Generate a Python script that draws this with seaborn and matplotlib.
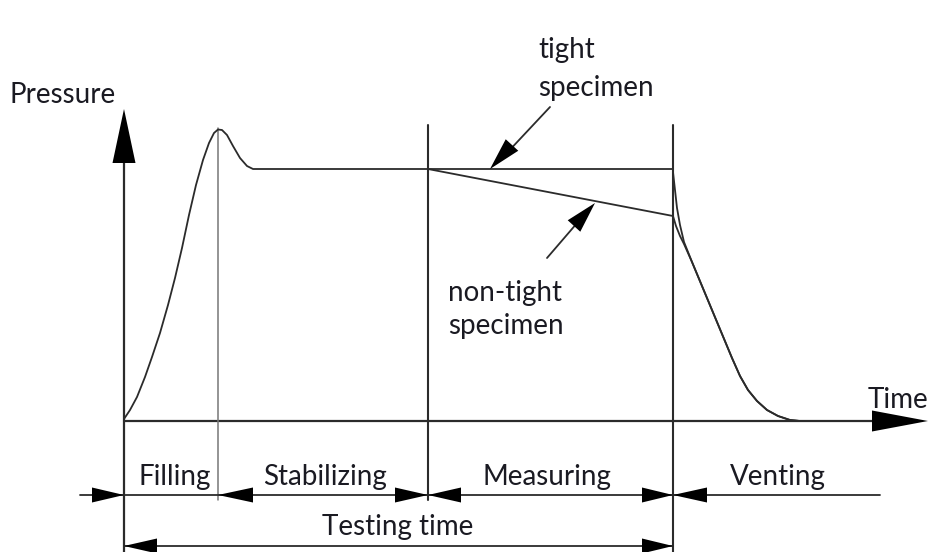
import numpy as np
import matplotlib.pyplot as plt
import seaborn as sns

sns.set_style("white")
plt.rcParams["font.family"] = ["Lato", "DejaVu Sans"]

# diagram units: x = time (px), y = pressure (px, measured downward)
phase_x = [124, 218, 428, 673]
phase_names = ["Filling", "Stabilizing", "Measuring", "Venting"]
phase_label_x = [175, 325, 547, 778]
zero_p = 421
plateau_p = 169

fill_t = [124, 130, 137, 145, 152, 160, 168, 175, 182, 189, 196, 203, 209,
          214, 218, 222, 227, 233, 240, 247, 253, 260, 673]
fill_p = [419, 410, 397, 377, 357, 333, 305, 278, 248, 215, 185, 160, 143,
          133, 129.5, 130, 135, 146, 158, 166, 169, 169, 169]

leak_t = [428, 673]
leak_p = [169, 216]

vent_tight_t = [673, 675, 677, 680, 684, 692, 702, 712, 722, 732, 740, 748,
                757, 767, 778, 790, 800]
vent_tight_p = [172, 190, 208, 225, 242, 262, 286, 310, 334, 358, 376, 390,
                401, 410, 416, 420, 421]
vent_leak_t = [673, 676, 680, 684, 692, 702, 712, 722, 732, 740, 748, 757,
               767, 778, 790, 800]
vent_leak_p = [216, 226, 236, 244, 262, 286, 310, 334, 358, 376, 390, 401,
               410, 416, 420, 421]

ink = "#2b2b2b"
txt = "#1a1a22"


def head(ax, tip, base, width):
    # filled triangle arrow head from base centre to tip
    tip = np.array(tip, float)
    base = np.array(base, float)
    d = tip - base
    n = np.array([-d[1], d[0]]) / np.hypot(*d) * width / 2
    pts = np.array([tip, base + n, base - n])
    ax.fill(pts[:, 0], pts[:, 1], color="black", lw=0, zorder=5)


fig = plt.figure(figsize=(9.36, 5.52), dpi=100)
ax = fig.add_axes([0, 0, 1, 1])
ax.set_xlim(0, 936)
ax.set_ylim(552, 0)
ax.axis("off")

# axes
ax.plot([124, 124], [552, 160], color=ink, lw=1.6)
head(ax, (124, 109), (124, 163), 23)
ax.plot([124, 875], [zero_p, zero_p], color=ink, lw=1.6)
head(ax, (928, zero_p), (872, zero_p), 21)

# phase boundaries
ax.plot([phase_x[1]] * 2, [128, 500], color="#777777", lw=1.1)
ax.plot([phase_x[2]] * 2, [125, 500], color=ink, lw=1.5)
ax.plot([phase_x[3]] * 2, [125, 552], color=ink, lw=1.5)

# pressure curves
kw = dict(ax=ax, color=ink, lw=1.3, sort=False, estimator=None, legend=False)
sns.lineplot(x=fill_t, y=fill_p, **kw)
sns.lineplot(x=leak_t, y=leak_p, **kw)
sns.lineplot(x=vent_tight_t, y=vent_tight_p, **kw)
sns.lineplot(x=vent_leak_t, y=vent_leak_p, **kw)

# callouts
ax.plot([550, 505], [107, 155], color=ink, lw=1.3)
head(ax, (490, 169), (512, 145), 17)
ax.plot([547, 584], [258, 215], color=ink, lw=1.3)
head(ax, (595, 203), (574, 226), 17)

fs = 20
ax.text(538, 50, "tight", fontsize=fs, color=txt, va="center")
ax.text(538, 88, "specimen", fontsize=fs, color=txt, va="center")
ax.text(448, 293, "non-tight", fontsize=fs, color=txt, va="center")
ax.text(448, 326, "specimen", fontsize=fs, color=txt, va="center")
ax.text(10, 95, "Pressure", fontsize=fs, color=txt, va="center")
ax.text(868, 400, "Time", fontsize=fs, color=txt, va="center")

# phase dimension line
yp = 495
ax.plot([80, 880], [yp, yp], color=ink, lw=1.3)
head(ax, (phase_x[0], yp), (92, yp), 15)
head(ax, (phase_x[1], yp), (253, yp), 15)
head(ax, (phase_x[2], yp), (395, yp), 15)
head(ax, (phase_x[2], yp), (461, yp), 15)
head(ax, (phase_x[3], yp), (642, yp), 15)
head(ax, (phase_x[3], yp), (707, yp), 15)
for lx, name in zip(phase_label_x, phase_names):
    ax.text(lx, 477, name, fontsize=fs, color=txt, ha="center", va="center",
            bbox=dict(fc="white", ec="none", pad=1), zorder=4)

# testing time dimension line
yt = 546
ax.plot([phase_x[0], phase_x[3]], [yt, yt], color=ink, lw=1.3)
head(ax, (phase_x[0], yt), (157, yt), 15)
head(ax, (phase_x[3], yt), (642, yt), 15)
ax.text(398, 527, "Testing time", fontsize=fs, color=txt, ha="center",
        va="center", bbox=dict(fc="white", ec="none", pad=2), zorder=4)

fig.savefig("out.png", dpi=100)
